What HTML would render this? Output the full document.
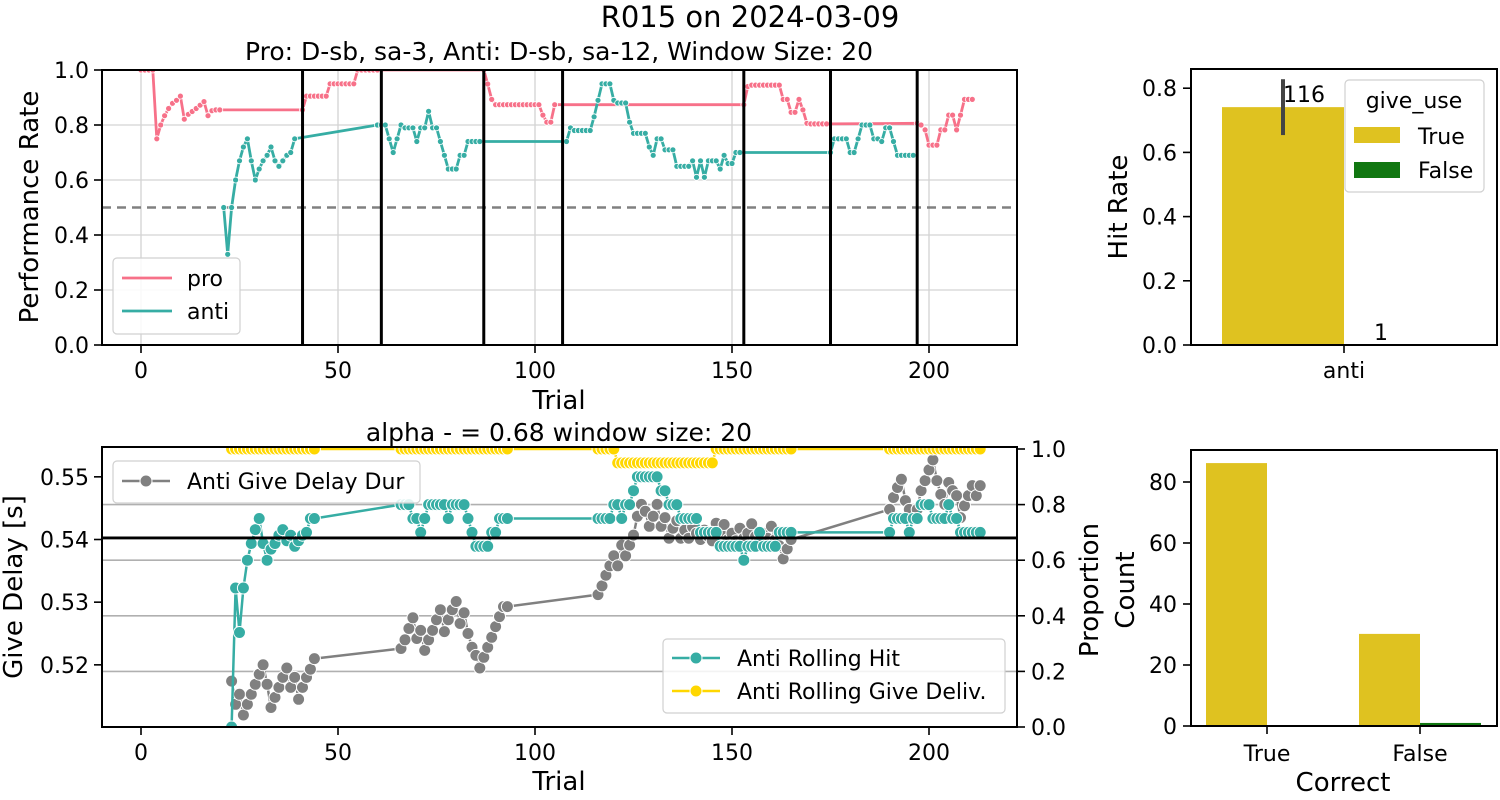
<!DOCTYPE html>
<html><head><meta charset="utf-8"><style>
html,body{margin:0;padding:0;background:#fff}
svg{display:block;font-family:"DejaVu Sans","Liberation Sans",sans-serif}
</style></head><body>
<svg id="fig" width="1500" height="800" viewBox="0 0 1500 800" xmlns="http://www.w3.org/2000/svg">
<defs>
<clipPath id="c1"><rect x="102" y="70" width="915" height="275"/></clipPath>
<clipPath id="c2"><rect x="102" y="447" width="915" height="280"/></clipPath>
</defs>
<text x="750" y="27" font-size="29" text-anchor="middle">R015 on 2024-03-09</text>
<text x="559" y="60" font-size="25" text-anchor="middle" textLength="628" lengthAdjust="spacingAndGlyphs">Pro: D-sb, sa-3, Anti: D-sb, sa-12, Window Size: 20</text>
<text x="559" y="441" font-size="25" text-anchor="middle">alpha - = 0.68 window size: 20</text>
<g id="g"></g>
</svg>
<script>
// ---------- data ----------
const proT = [0,1,2,3,4,5,6,7,8,9,10,11,12,13,14,15,16,17,18,19,20,
41,42,43,44,45,46,47,48,49,50,51,52,53,54,55,56,57,58,59,60,
87,88,89,90,91,92,93,94,95,96,97,98,99,100,101,102,103,104,105,
153,154,155,156,157,158,159,160,161,162,163,164,165,166,167,168,169,170,171,172,173,174,
197,198,199,200,201,202,203,204,205,206,207,208,209,210,211];
const proV = [1,1,1,1,.75,.80,.834,.86,.879,.89,.905,.821,.839,.849,.86,.872,.885,.834,.852,.855,.855,
.855,.905,.905,.905,.905,.905,.905,.95,.95,.95,.95,.95,.95,.95,1,1,1,1,1,1,
1,.949,.893,.874,.874,.874,.874,.874,.874,.874,.874,.874,.874,.874,.874,.836,.81,.81,.874,
.874,.94,.945,.945,.945,.945,.945,.945,.945,.945,.893,.893,.846,.846,.893,.855,.806,.804,.804,.804,.804,.804,
.806,.80,.782,.727,.727,.727,.782,.782,.836,.836,.782,.836,.893,.893,.893];
const antiT = [21,22,23,24,25,26,27,28,29,30,31,32,33,34,35,36,37,38,39,
60,61,62,63,64,65,66,67,68,69,70,71,72,73,74,75,76,77,78,79,80,81,82,83,84,85,86,
108,109,110,111,112,113,114,115,116,117,118,119,120,121,122,123,124,125,126,127,128,129,130,131,132,133,134,135,136,137,138,139,140,141,142,143,144,145,146,147,148,149,150,151,152,
175,176,177,178,179,180,181,182,183,184,185,186,187,188,189,190,191,192,193,194,195,196];
const antiV = [.50,.33,.50,.60,.67,.72,.75,.67,.60,.64,.67,.69,.72,.67,.65,.67,.69,.70,.75,
.80,.80,.80,.75,.70,.75,.80,.79,.79,.79,.74,.79,.79,.85,.79,.79,.74,.69,.64,.64,.64,.69,.69,.74,.74,.74,.74,
.74,.79,.78,.78,.78,.78,.78,.83,.89,.95,.95,.95,.89,.88,.88,.88,.81,.77,.77,.77,.77,.72,.69,.75,.75,.71,.71,.71,.65,.65,.65,.65,.67,.61,.67,.61,.67,.67,.67,.64,.69,.66,.66,.70,.70,
.70,.75,.75,.75,.75,.70,.70,.75,.80,.80,.80,.75,.75,.74,.79,.79,.74,.69,.69,.69,.69,.69];
const blockStarts = [41,61,87,107,153,175,197];
const chanceLevel = 0.5;
const xTicks = [0,50,100,150,200];
const yTicksPerf = [0,0.2,0.4,0.6,0.8,1.0];

const bottomT = [23,24,25,26,27,28,29,30,31,32,33,34,35,36,37,38,39,40,41,42,43,44,
66,67,68,69,70,71,72,73,74,75,76,77,78,79,80,81,82,83,84,85,86,87,88,89,90,91,92,93,
116,117,118,119,120,121,122,123,124,125,126,127,128,129,130,131,132,133,134,135,136,137,138,139,140,141,142,143,144,145,146,147,148,149,150,151,152,153,154,155,156,157,158,159,160,161,162,163,164,165,
190,191,192,193,194,195,196,197,198,199,200,201,202,203,204,205,206,207,208,209,210,211,212,213];
const hitV = [0,.5,.34,.5,.6,.66,.71,.75,.66,.6,.64,.66,.69,.71,.67,.69,.65,.67,.69,.70,.75,.75,
.80,.80,.80,.75,.75,.70,.75,.80,.80,.80,.80,.80,.75,.80,.80,.80,.80,.75,.70,.65,.65,.65,.65,.70,.70,.75,.75,.75,
.75,.75,.75,.75,.80,.80,.75,.80,.80,.85,.90,.90,.90,.90,.90,.90,.85,.85,.80,.80,.80,.75,.75,.75,.75,.75,.70,.70,.70,.70,.70,.65,.65,.65,.65,.65,.65,.60,.65,.65,.65,.70,.65,.65,.65,.65,.70,.70,.70,.70,
.70,.75,.75,.75,.75,.70,.75,.75,.80,.80,.80,.75,.75,.75,.75,.80,.75,.75,.70,.70,.70,.70,.70,.70];
const delayV = [.5174,.5137,.5153,.512,.5137,.5153,.5169,.5185,.520,.5169,.5132,.5148,.5164,.518,.5195,.5164,.518,.5145,.5164,.518,.5193,.521,
.5226,.524,.5258,.5275,.5242,.5255,.5223,.524,.5255,.5272,.5288,.5253,.5272,.5288,.5301,.5266,.5283,.525,.5228,.5215,.5195,.5212,.5228,.5244,.5261,.5277,.5293,.5293,
.5312,.5326,.5343,.5358,.5374,.5358,.5391,.5374,.5391,.5407,.5437,.5456,.5445,.5421,.5437,.5456,.5421,.5435,.5402,.5418,.5430,.5402,.5415,.5402,.5420,.5410,.5400,.5415,.5405,.5398,.5426,.5412,.5424,.5400,.5410,.5398,.5418,.5402,.5410,.5425,.5405,.5398,.5410,.5402,.5421,.5400,.5390,.5369,.5385,.5400,
.5448,.5467,.5483,.5496,.5462,.5448,.5432,.5448,.5478,.5494,.5511,.5527,.5494,.5472,.5456,.5491,.5478,.5470,.5435,.5454,.5470,.5486,.5470,.5486];
const delivV = [1,1,1,1,1,1,1,1,1,1,1,1,1,1,1,1,1,1,1,1,1,1,
1,1,1,1,1,1,1,1,1,1,1,1,1,1,1,1,1,1,1,1,1,1,1,1,1,1,1,1,
1,1,1,1,1,.95,.95,.95,.95,.95,.95,.95,.95,.95,.95,.95,.95,.95,.95,.95,.95,.95,.95,.95,.95,.95,.95,.95,.95,.95,1,1,1,1,1,1,1,1,1,1,1,1,1,1,1,1,1,1,1,1,
1,1,1,1,1,1,1,1,1,1,1,1,1,1,1,1,1,1,1,1,1,1,1,1];
const alphaLevel = 0.68;
const yTicksDelay = [0.52,0.53,0.54,0.55];
const yTicksProp = [0,0.2,0.4,0.6,0.8,1.0];

const hitCats = ['anti'];
const hitTrue = [0.741];
const hitTrueErrLo = [0.654];
const hitTrueErrHi = [0.828];
const hitFalse = [0];
const hitCountLabels = ['116','1'];
const yTicksHit = [0,0.2,0.4,0.6,0.8];

const countCats = ['True','False'];
const countGiveTrue = [86.2, 30.2];
const countGiveFalse = [0, 1];
const yTicksCount = [0,20,40,60,80];

// ---------- scales ----------
const X = t => 141 + 3.94*t;
const Y1 = v => 345 - 275*v;
const YL = v => 539.5 - (v-0.54)*6267;
const YR = p => 727 - 278*p;
const YH = v => 345 - 321*v;
const YC = c => 726 - 3.05*c;
const TF = 22, LF = 26, GF = 22;

const NS = 'http://www.w3.org/2000/svg';
const root = document.getElementById('g');
function mk(tag, attrs, parent){
  const e = document.createElementNS(NS, tag);
  for (const k in attrs) e.setAttribute(k, attrs[k]);
  (parent||root).appendChild(e);
  return e;
}
function txt(s, attrs, name, parent){
  const e = mk('text', attrs, parent);
  e.textContent = s;
  
  
  return e;
}
function grp(name, parent){
  const e = mk('g', {}, parent);
  
  
  return e;
}
function series(name, T, V, xs, ys, color, lw, r, clip){
  const g = grp(name);
  g.setAttribute('clip-path', 'url(#'+clip+')');
  const pts = T.map((t,i)=>xs(t).toFixed(1)+','+ys(V[i]).toFixed(1)).join(' ');
  const pl = mk('polyline', {points:pts, fill:'none', stroke:color, 'stroke-width':lw, 'stroke-linejoin':'round'}, g);
  
  
  T.forEach((t,i)=>{
    const c = mk('circle', {cx:xs(t).toFixed(1), cy:ys(V[i]).toFixed(1), r:r, fill:color, stroke:'#fff', 'stroke-width':r>4?1:0.8}, g);
    
    
  });
}

// ---------- top-left panel ----------
const tl = grp('performance-axes');
xTicks.forEach(t=>{
  const l = mk('line',{x1:X(t),x2:X(t),y1:70,y2:345,stroke:'#d3d3d3','stroke-width':1.3},tl);
  
  
});
yTicksPerf.forEach(v=>{
  const l = mk('line',{x1:102,x2:1017,y1:Y1(v),y2:Y1(v),stroke:'#d3d3d3','stroke-width':1.3},tl);
  
  
});
const ch = mk('line',{x1:102,x2:1017,y1:Y1(chanceLevel),y2:Y1(chanceLevel),stroke:'#808080','stroke-width':2.5,'stroke-dasharray':'9,6'},tl);


series('pro-series', proT, proV, X, Y1, '#f77189', 2.8, 3, 'c1');
series('anti-series', antiT, antiV, X, Y1, '#36ada4', 2.8, 3, 'c1');
blockStarts.forEach(t=>{
  const l = mk('line',{x1:X(t),x2:X(t),y1:70,y2:345,stroke:'#000','stroke-width':3});
  
  
});
const f1 = mk('rect',{x:102,y:70,width:915,height:275,fill:'none',stroke:'#000','stroke-width':2});


xTicks.forEach(t=>{
  const l = mk('line',{x1:X(t),x2:X(t),y1:345,y2:353,stroke:'#000','stroke-width':1.6});
  
  
  txt(String(t),{x:X(t),y:378,'font-size':TF,'text-anchor':'middle'},'x-tick-label');
});
yTicksPerf.forEach(v=>{
  const l = mk('line',{x1:94,x2:102,y1:Y1(v),y2:Y1(v),stroke:'#000','stroke-width':1.6});
  
  
  txt(v.toFixed(1),{x:89,y:Y1(v)+8,'font-size':TF,'text-anchor':'end'},'y-tick-label');
});
txt('Trial',{x:559,y:409,'font-size':LF,'text-anchor':'middle'},'x-axis-title');
txt('Performance Rate',{x:38,y:207,'font-size':LF,'text-anchor':'middle',transform:'rotate(-90 38 207)'},'y-axis-title');
// legend
const lg1 = grp('performance-legend');
mk('rect',{x:113,y:258,width:127,height:76,rx:4,fill:'#fff','fill-opacity':0.85,stroke:'#d0d0d0','stroke-width':1.2},lg1);
mk('line',{x1:122,x2:172,y1:278,y2:278,stroke:'#f77189','stroke-width':2.8},lg1);
txt('pro',{x:187,y:286,'font-size':GF},'legend-entry-pro',lg1);
mk('line',{x1:122,x2:172,y1:311,y2:311,stroke:'#36ada4','stroke-width':2.8},lg1);
txt('anti',{x:187,y:319,'font-size':GF},'legend-entry-anti',lg1);

// ---------- bottom-left panel ----------
const bl = grp('give-delay-axes');
yTicksProp.slice(1,5).forEach(p=>{
  const l = mk('line',{x1:102,x2:1017,y1:YR(p),y2:YR(p),stroke:'#b0b0b0','stroke-width':1.6},bl);
  
  
});
series('give-delay-series', bottomT, delayV, X, YL, '#808080', 2.5, 6, 'c2');
series('rolling-hit-series', bottomT, hitV, X, YR, '#36ada4', 2.5, 6, 'c2');
series('rolling-give-series', bottomT, delivV, X, YR, '#ffd700', 2.5, 6, 'c2');
const al = mk('line',{x1:102,x2:1017,y1:YR(alphaLevel),y2:YR(alphaLevel),stroke:'#000','stroke-width':2.8});


const f2 = mk('rect',{x:102,y:447,width:915,height:280,fill:'none',stroke:'#000','stroke-width':2});


xTicks.forEach(t=>{
  const l = mk('line',{x1:X(t),x2:X(t),y1:727,y2:735,stroke:'#000','stroke-width':1.6});
  
  
  txt(String(t),{x:X(t),y:760,'font-size':TF,'text-anchor':'middle'},'x-tick-label');
});
yTicksDelay.forEach(v=>{
  const l = mk('line',{x1:94,x2:102,y1:YL(v),y2:YL(v),stroke:'#000','stroke-width':1.6});
  
  
  txt(v.toFixed(2),{x:89,y:YL(v)+8,'font-size':TF,'text-anchor':'end'},'y-tick-label');
});
yTicksProp.forEach(p=>{
  const l = mk('line',{x1:1017,x2:1025,y1:YR(p),y2:YR(p),stroke:'#000','stroke-width':1.6});
  
  
  txt(p.toFixed(1),{x:1031,y:YR(p)+8,'font-size':TF},'right-y-tick-label');
});
txt('Trial',{x:559,y:790,'font-size':LF,'text-anchor':'middle'},'x-axis-title');
txt('Give Delay [s]',{x:22,y:587,'font-size':LF,'text-anchor':'middle',transform:'rotate(-90 22 587)'},'y-axis-title');
txt('Proportion',{x:1098,y:590,'font-size':LF,'text-anchor':'middle',transform:'rotate(-90 1098 590)'},'right-y-axis-title');
const lg2 = grp('give-delay-legend');
mk('rect',{x:113,y:461,width:307,height:42,rx:4,fill:'#fff','fill-opacity':0.85,stroke:'#d0d0d0','stroke-width':1.2},lg2);
mk('line',{x1:122,x2:170,y1:481,y2:481,stroke:'#808080','stroke-width':2.5},lg2);
mk('circle',{cx:146,cy:481,r:6,fill:'#808080',stroke:'#fff'},lg2);
txt('Anti Give Delay Dur',{x:187,y:489,'font-size':GF},'legend-entry-give-delay',lg2);
const lg3 = grp('rolling-legend');
mk('rect',{x:663,y:639,width:342,height:74,rx:4,fill:'#fff','fill-opacity':0.85,stroke:'#d0d0d0','stroke-width':1.2},lg3);
mk('line',{x1:672,x2:720,y1:658,y2:658,stroke:'#36ada4','stroke-width':2.5},lg3);
mk('circle',{cx:696,cy:658,r:6,fill:'#36ada4',stroke:'#fff'},lg3);
txt('Anti Rolling Hit',{x:737,y:666,'font-size':GF},'legend-entry-rolling-hit',lg3);
mk('line',{x1:672,x2:720,y1:691,y2:691,stroke:'#ffd700','stroke-width':2.5},lg3);
mk('circle',{cx:696,cy:691,r:6,fill:'#ffd700',stroke:'#fff'},lg3);
txt('Anti Rolling Give Deliv.',{x:737,y:699,'font-size':GF},'legend-entry-rolling-give',lg3);

// ---------- top-right panel ----------
const tr = grp('hit-rate-axes');
const catX = i => 1344 + i*306;
hitCats.forEach((c,i)=>{
  const b = mk('rect',{x:catX(i)-122,y:YH(hitTrue[i]),width:122,height:345-YH(hitTrue[i]),fill:'#dfc220'},tr);
  
  
  const b2 = mk('rect',{x:catX(i),y:YH(hitFalse[i]),width:122,height:345-YH(hitFalse[i]),fill:'#117711'},tr);
  
  
  const e = mk('line',{x1:catX(i)-61,x2:catX(i)-61,y1:YH(hitTrueErrLo[i]),y2:YH(hitTrueErrHi[i]),stroke:'#444','stroke-width':4},tr);
  
  
  txt(hitCountLabels[0],{x:catX(i)-61,y:YH(hitTrue[i])-5,'font-size':GF},'count-label-true',tr);
  txt(hitCountLabels[1],{x:catX(i)+30,y:YH(hitFalse[i])-5,'font-size':GF},'count-label-false',tr);
  const tk = mk('line',{x1:catX(i),x2:catX(i),y1:345,y2:353,stroke:'#000','stroke-width':1.6},tr);
  
  
  txt(c,{x:catX(i),y:378,'font-size':TF,'text-anchor':'middle'},'x-tick-label',tr);
});
mk('rect',{x:1191,y:69,width:306,height:276,fill:'none',stroke:'#000','stroke-width':2},tr);
yTicksHit.forEach(v=>{
  const l = mk('line',{x1:1183,x2:1191,y1:YH(v),y2:YH(v),stroke:'#000','stroke-width':1.6},tr);
  
  
  txt(v.toFixed(1),{x:1177,y:YH(v)+8,'font-size':TF,'text-anchor':'end'},'y-tick-label',tr);
});
txt('Hit Rate',{x:1127,y:207,'font-size':LF,'text-anchor':'middle',transform:'rotate(-90 1127 207)'},'y-axis-title',tr);
const lg4 = grp('give-use-legend');
mk('rect',{x:1345,y:80,width:139,height:112,rx:4,fill:'#fff','fill-opacity':0.85,stroke:'#d0d0d0','stroke-width':1.2},lg4);
txt('give_use',{x:1414,y:108,'font-size':GF,'text-anchor':'middle'},'legend-title',lg4);
mk('rect',{x:1354,y:127,width:46,height:16,fill:'#dfc220'},lg4);
txt('True',{x:1418,y:144,'font-size':GF},'legend-entry-true',lg4);
mk('rect',{x:1354,y:162,width:46,height:16,fill:'#117711'},lg4);
txt('False',{x:1418,y:178,'font-size':GF},'legend-entry-false',lg4);

// ---------- bottom-right panel ----------
const br = grp('count-axes');
const cX = i => 1267 + i*153;
countCats.forEach((c,i)=>{
  const b = mk('rect',{x:cX(i)-61,y:YC(countGiveTrue[i]),width:61,height:726-YC(countGiveTrue[i]),fill:'#dfc220'},br);
  
  
  const b2 = mk('rect',{x:cX(i),y:YC(countGiveFalse[i]),width:61,height:726-YC(countGiveFalse[i]),fill:'#117711'},br);
  
  
  const tk = mk('line',{x1:cX(i),x2:cX(i),y1:726,y2:734,stroke:'#000','stroke-width':1.6},br);
  
  
  txt(c,{x:cX(i),y:761,'font-size':TF,'text-anchor':'middle'},'x-tick-label',br);
});
mk('rect',{x:1191,y:450,width:306,height:276,fill:'none',stroke:'#000','stroke-width':2},br);
yTicksCount.forEach(v=>{
  const l = mk('line',{x1:1183,x2:1191,y1:YC(v),y2:YC(v),stroke:'#000','stroke-width':1.6},br);
  
  
  txt(String(v),{x:1177,y:YC(v)+8,'font-size':TF,'text-anchor':'end'},'y-tick-label',br);
});
txt('Count',{x:1134,y:590,'font-size':LF,'text-anchor':'middle',transform:'rotate(-90 1134 590)'},'y-axis-title',br);
txt('Correct',{x:1343,y:791,'font-size':LF,'text-anchor':'middle'},'x-axis-title',br);
</script>
</body></html>
